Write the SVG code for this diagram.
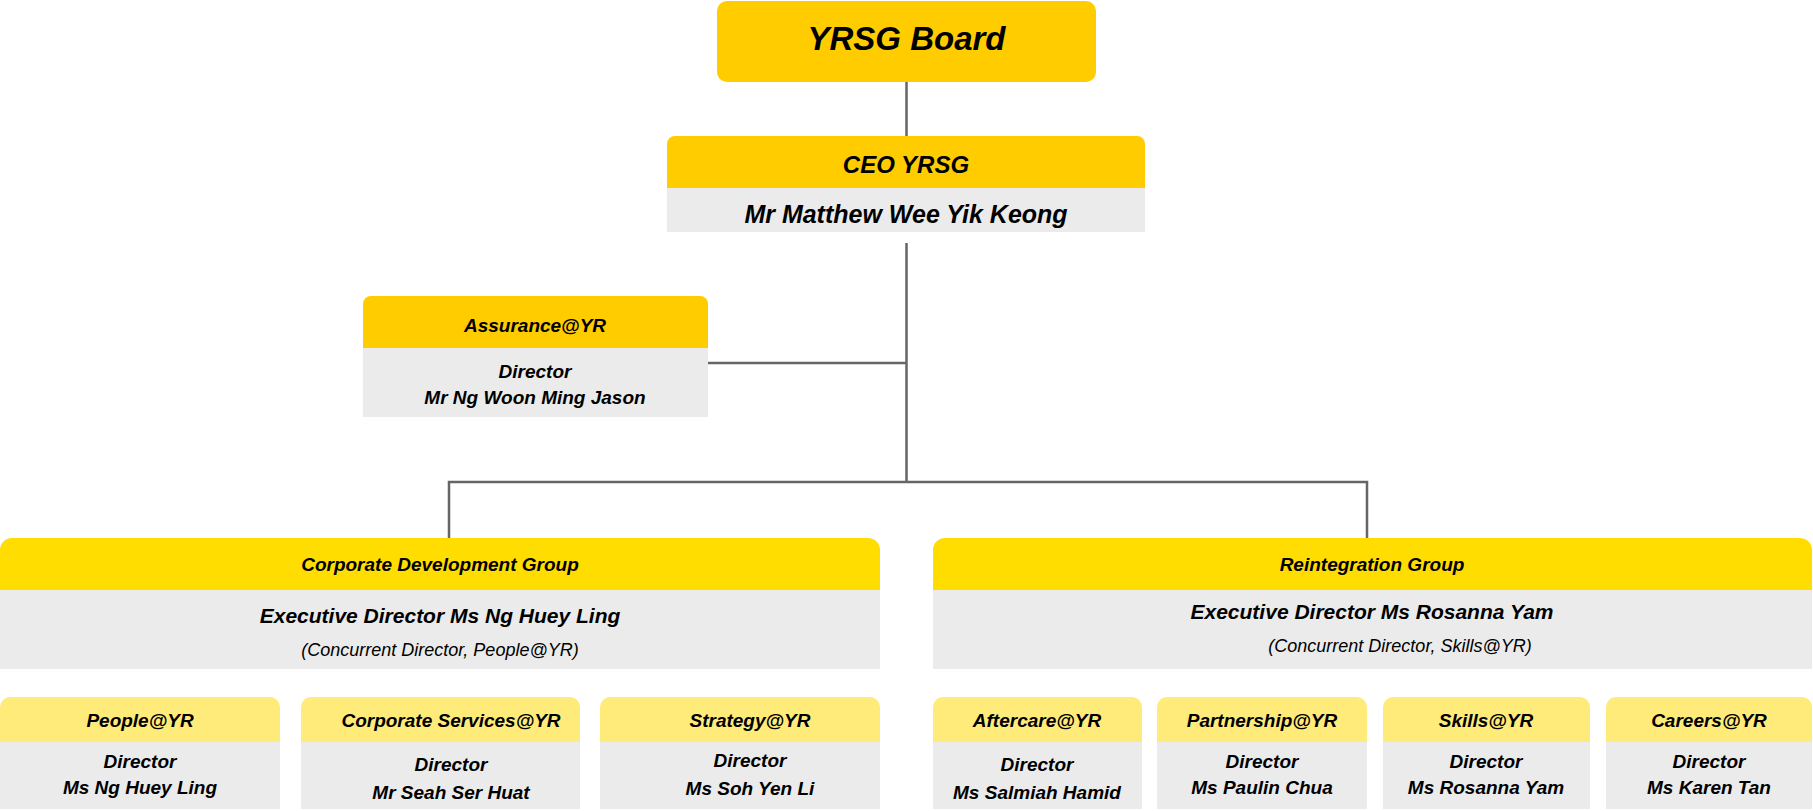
<svg xmlns="http://www.w3.org/2000/svg" width="1813" height="811" viewBox="0 0 1813 811">
<style>
text{font-family:"Liberation Sans",Arial,sans-serif;font-weight:bold;font-style:italic;text-anchor:middle;fill:#000}
.g{fill:#EBEBEB}.h1{fill:#FFCC00}.h2{fill:#FFDD00}.h3{fill:#FFEB7A}
.c{stroke:#666;stroke-width:2.5;fill:none}
.s{font-size:19px}.n{font-weight:normal;font-size:18px}
</style>
<g id="connectors">
<path class="c" d="M906.5 82V136M906.5 243V482M708 363H906.5M449 538V482H1367V538"/>
</g>
<g id="board"><rect x="717" y="1" width="379" height="81" rx="10" class="h1"/><text x="906.5" y="50" style="font-size:33px">YRSG Board</text></g>
<g id="ceo"><path class="h1" d="M667 188V144a8 8 0 0 1 8-8H1137a8 8 0 0 1 8 8V188Z"/><rect x="667" y="188" width="478" height="44" class="g"/>
<text x="906" y="173" style="font-size:24px">CEO YRSG</text><text x="906" y="223" style="font-size:25px">Mr Matthew Wee Yik Keong</text></g>
<g id="assurance"><path class="h1" d="M363 348V304a8 8 0 0 1 8-8H700a8 8 0 0 1 8 8V348Z"/><rect x="363" y="348" width="345" height="69" class="g"/>
<text x="535" y="332" class="s">Assurance@YR</text><text x="535" y="378" class="s">Director</text><text x="535" y="404" class="s">Mr Ng Woon Ming Jason</text></g>
<g id="cdg"><path class="h2" d="M0 590V550a12 12 0 0 1 12-12H868a12 12 0 0 1 12 12V590Z"/><rect x="0" y="590" width="880" height="79" class="g"/>
<text x="440" y="571" class="s">Corporate Development Group</text><text x="440" y="623" style="font-size:21px">Executive Director Ms Ng Huey Ling</text><text x="440" y="656" class="n">(Concurrent Director, People@YR)</text></g>
<g id="rg"><path class="h2" d="M933 590V550a12 12 0 0 1 12-12H1800a12 12 0 0 1 12 12V590Z"/><rect x="933" y="590" width="879" height="79" class="g"/>
<text x="1372" y="571" class="s">Reintegration Group</text><text x="1372" y="619" style="font-size:21px">Executive Director Ms Rosanna Yam</text><text x="1400" y="652" class="n">(Concurrent Director, Skills@YR)</text></g>
<g id="people"><path class="h3" d="M0 742V707a10 10 0 0 1 10-10H270a10 10 0 0 1 10 10V742Z"/><rect x="0" y="742" width="280" height="67" class="g"/>
<text x="140" y="727" class="s">People@YR</text><text x="140" y="768" class="s">Director</text><text x="140" y="794" class="s">Ms Ng Huey Ling</text></g>
<g id="corp"><path class="h3" d="M301 742V707a10 10 0 0 1 10-10H570a10 10 0 0 1 10 10V742Z"/><rect x="301" y="742" width="279" height="67" class="g"/>
<text x="451" y="727" class="s">Corporate Services@YR</text><text x="451" y="771" class="s">Director</text><text x="451" y="799" class="s">Mr Seah Ser Huat</text></g>
<g id="strategy"><path class="h3" d="M600 742V707a10 10 0 0 1 10-10H870a10 10 0 0 1 10 10V742Z"/><rect x="600" y="742" width="280" height="67" class="g"/>
<text x="750" y="727" class="s">Strategy@YR</text><text x="750" y="767" class="s">Director</text><text x="750" y="795" class="s">Ms Soh Yen Li</text></g>
<g id="aftercare"><path class="h3" d="M933 742V707a10 10 0 0 1 10-10H1132a10 10 0 0 1 10 10V742Z"/><rect x="933" y="742" width="209" height="67" class="g"/>
<text x="1037" y="727" class="s">Aftercare@YR</text><text x="1037" y="771" class="s">Director</text><text x="1037" y="799" class="s">Ms Salmiah Hamid</text></g>
<g id="partnership"><path class="h3" d="M1157 742V707a10 10 0 0 1 10-10H1357a10 10 0 0 1 10 10V742Z"/><rect x="1157" y="742" width="210" height="67" class="g"/>
<text x="1262" y="727" class="s">Partnership@YR</text><text x="1262" y="768" class="s">Director</text><text x="1262" y="794" class="s">Ms Paulin Chua</text></g>
<g id="skills"><path class="h3" d="M1383 742V707a10 10 0 0 1 10-10H1580a10 10 0 0 1 10 10V742Z"/><rect x="1383" y="742" width="207" height="67" class="g"/>
<text x="1486" y="727" class="s">Skills@YR</text><text x="1486" y="768" class="s">Director</text><text x="1486" y="794" class="s">Ms Rosanna Yam</text></g>
<g id="careers"><path class="h3" d="M1606 742V707a10 10 0 0 1 10-10H1802a10 10 0 0 1 10 10V742Z"/><rect x="1606" y="742" width="206" height="67" class="g"/>
<text x="1709" y="727" class="s">Careers@YR</text><text x="1709" y="768" class="s">Director</text><text x="1709" y="794" class="s">Ms Karen Tan</text></g>
</svg>
